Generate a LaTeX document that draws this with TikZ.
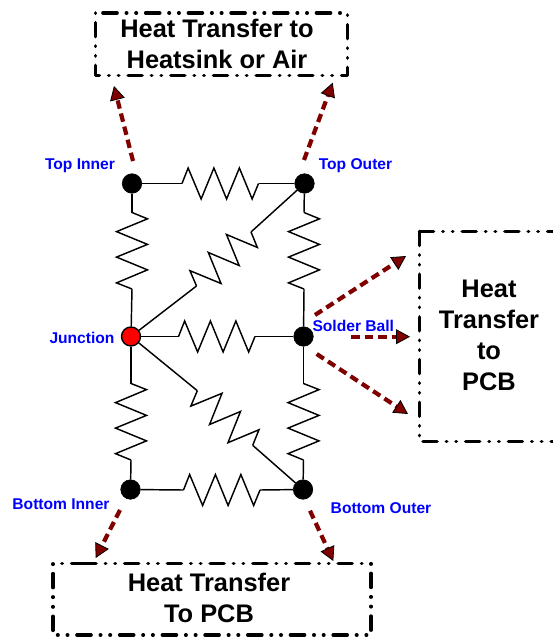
\documentclass[tikz,border=0pt]{standalone}
\usepackage{fontspec}
\setmainfont{Liberation Sans}
\usetikzlibrary{calc,arrows.meta}
\definecolor{darkred}{RGB}{128,0,0}
\definecolor{lblblue}{RGB}{0,0,255}
\tikzset{
  junct/.style={circle,fill=black,draw=black,line width=.6pt,minimum size=19.5pt,inner sep=0pt},
  wire/.style={line width=1.45pt,line join=miter,black},
  lbl/.style={text=lblblue,font=\bfseries\fontsize{15.6}{18}\selectfont,inner sep=0pt},
  boxtxt/.style={font=\bfseries\fontsize{25.4}{31}\selectfont,align=center,inner sep=0pt},
  boxline/.style={line width=3.6pt,line cap=round,line join=round,
    dash pattern=on 14pt off 9.3pt on 0.4pt off 9.3pt on 0.4pt off 9.3pt},
  flow/.style={line width=4.2pt,darkred,dash pattern=on 8.5pt off 5pt,
    -{Triangle[length=14pt,width=15pt,fill=darkred,color=black,line width=.8pt]}}
}
% resistor between two named coordinates; #3 = signed amplitude
\newcommand{\resis}[3]{%
  \draw[wire] (#1)
    -- ($(#1)!.08!(#2)!#3!90:(#2)$)
    -- ($(#1)!.25!(#2)!-#3!90:(#2)$)
    -- ($(#1)!.417!(#2)!#3!90:(#2)$)
    -- ($(#1)!.583!(#2)!-#3!90:(#2)$)
    -- ($(#1)!.75!(#2)!#3!90:(#2)$)
    -- ($(#1)!.917!(#2)!-#3!90:(#2)$)
    -- (#2);}
\begin{document}
\begin{tikzpicture}[x=1pt,y=-1pt]
\useasboundingbox (0,0) rectangle (553,639);
% junctions
\node[junct] (TI) at (132,183.5) {};
\node[junct] (TO) at (304.5,183.5) {};
\node[junct,fill=red,line width=1.4pt,minimum size=19pt] (J) at (131,336.5) {};
\node[junct] (SB) at (303.5,336.5) {};
\node[junct] (BI) at (130.5,489.5) {};
\node[junct] (BO) at (303,489.5) {};
% resistor end points
\coordinate (a1) at (182,183.5);   \coordinate (b1) at (258.5,183.5);
\coordinate (a2) at (132,289);     \coordinate (b2) at (132,212.5);
\coordinate (a3) at (304,289);     \coordinate (b3) at (304,212.5);
\coordinate (a4) at (178.5,336.5); \coordinate (b4) at (255,336.5);
\coordinate (a5) at (183.5,490);   \coordinate (b5) at (260,490);
\coordinate (a6) at (131,383.5);   \coordinate (b6) at (131,460);
\coordinate (a7) at (303.5,383.5); \coordinate (b7) at (303.5,460);
\coordinate (a8) at (196.5,286);   \coordinate (b8) at (251,232);
\coordinate (a9) at (197.3,390.7); \coordinate (b9) at (252.7,445.3);
\foreach \p/\q/\r/\s in {TI/a1/b1/TO, J/a2/b2/TI, SB/a3/b3/TO, J/a4/b4/SB, BI/a5/b5/BO,
    J/a6/b6/BI, SB/a7/b7/BO, J/a8/b8/TO, J/a9/b9/BO}{
  \draw[wire] (\p) -- (\q);
  \draw[wire] (\r) -- (\s);
}
\resis{a1}{b1}{15.5pt}
\resis{a2}{b2}{15.5pt}
\resis{a3}{b3}{15.5pt}
\resis{a4}{b4}{15.5pt}
\resis{a5}{b5}{15.5pt}
\resis{a6}{b6}{15.5pt}
\resis{a7}{b7}{15.5pt}
\resis{a8}{b8}{15.5pt}
\resis{a9}{b9}{-15.5pt}
% labels
\node[lbl] (lTI) at (80,166) {Top Inner};
\node[lbl] (lTO) at (355.5,166) {Top Outer};
\node[lbl] (lJ) at (82,337.5) {Junction};
\node[lbl] (lSB) at (353.3,325.5) {Solder Ball};
\node[lbl] (lBI) at (61,504.5) {Bottom Inner};
\node[lbl] (lBO) at (381,508.5) {Bottom Outer};
% boxes
\draw[boxline] (103,13) -- (347.5,13) -- (347.5,75.5) -- (95.5,75.5) -- (95.5,13) -- cycle;
\draw[boxline] (82,563.5) -- (371,563.5) -- (371,635) -- (53,635) -- (53,563.5) -- cycle;
\draw[boxline] (419.5,231.5) -- (553,231.5);
\draw[boxline] (419.5,231.5) -- (419.5,441.5) -- (553,441.5);
\node[boxtxt] (t1) at (217,44) {Heat Transfer to\\Heatsink or Air};
\node[boxtxt] (t2) at (209,598) {Heat Transfer\\To PCB};
\node[boxtxt] (t3) at (489,335.5) {Heat\\Transfer\\to\\PCB};
% heat-flow arrows
\coordinate (s1) at (133,161);     \coordinate (e1) at (114,86);
\coordinate (s2) at (304,160);     \coordinate (e2) at (332.7,82.7);
\coordinate (s3) at (315,315);     \coordinate (e3) at (406,256);
\coordinate (s4) at (351,336.7);   \coordinate (e4) at (410,336.7);
\coordinate (s5) at (316.7,354);   \coordinate (e5) at (408,414);
\coordinate (s6) at (120,510);     \coordinate (e6) at (95.7,558);
\coordinate (s7) at (310,510.7);   \coordinate (e7) at (333.3,561);
\foreach \i in {1,...,7}{\draw[flow] (s\i) -- (e\i);}
\end{tikzpicture}
\end{document}
